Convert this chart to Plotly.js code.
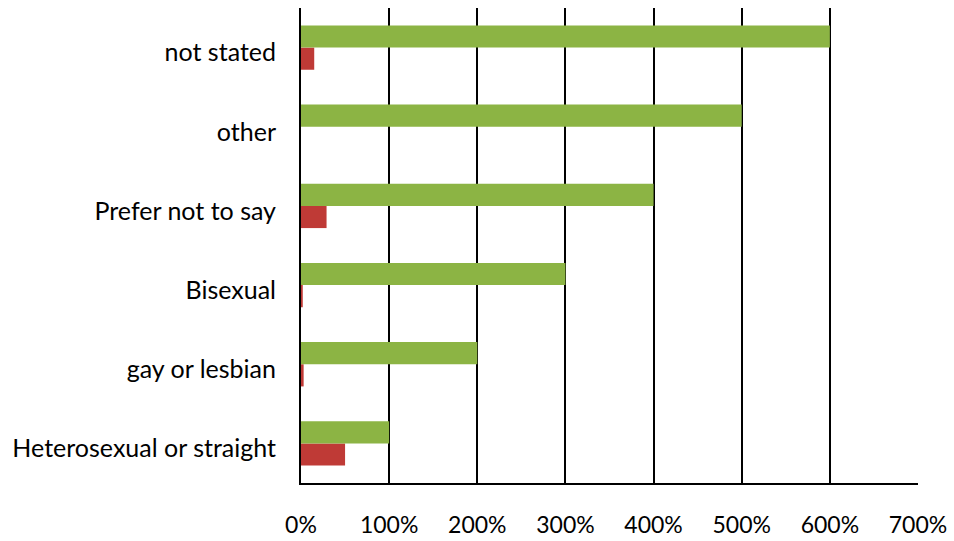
<!DOCTYPE html>
<html>
<head>
<meta charset="utf-8">
<script src="https://cdn.plot.ly/plotly-3.0.1.min.js"></script>
<style>
html,body{margin:0;padding:0;background:#fff;}
body{width:954px;height:541px;overflow:hidden;}
#frame{position:absolute;left:0;top:0;width:2px;height:541px;background:#8c8c8c;}
#chart{width:954px;height:541px;}
</style>
</head>
<body>
<div id="frame"></div>
<div id="chart"></div>
<script>
const categories = ["Heterosexual or straight", "gay or lesbian", "Bisexual", "Prefer not to say", "other", "not stated"];
const greenValues = [1.0, 2.0, 3.0, 4.0, 5.0, 6.0];
const redValues = [0.50, 0.03, 0.02, 0.29, 0.0, 0.15];
const tickValues = [0, 1, 2, 3, 4, 5, 6, 7];
const tickLabels = ["0%", "100%", "200%", "300%", "400%", "500%", "600%", "700%"];

const yFont = {family: "Lato, Open Sans, sans-serif", size: 25, color: "#000"};
const xFont = {family: "Lato, Open Sans, sans-serif", size: 23, color: "#000"};

const traces = [
  {type: "bar", orientation: "h", y: categories, x: redValues, name: "red",
   marker: {color: "#BF3A36"}, hoverinfo: "skip"},
  {type: "bar", orientation: "h", y: categories, x: greenValues, name: "green",
   marker: {color: "#8CB444"}, hoverinfo: "skip"}
];

const layout = {
  width: 954, height: 541,
  margin: {l: 301, r: 36, t: 8, b: 58},
  paper_bgcolor: "#fff", plot_bgcolor: "#fff",
  showlegend: false,
  barmode: "group",
  bargap: 0.44,
  bargroupgap: 0,
  font: yFont,
  xaxis: {
    range: [0, 7], tickvals: tickValues, ticktext: tickLabels,
    showgrid: true, gridcolor: "#000", gridwidth: 2,
    zeroline: false, showline: true, linecolor: "#000", linewidth: 2,
    ticks: "", ticklabelstandoff: 20, tickfont: xFont, fixedrange: true
  },
  yaxis: {
    showgrid: false, zeroline: false, showline: true, linecolor: "#000", linewidth: 2,
    ticks: "", ticklabelstandoff: 18, ticklabelshift: 5, tickfont: yFont, fixedrange: true
  }
};

Plotly.newPlot("chart", traces, layout, {displayModeBar: false, staticPlot: true});
</script>
</body>
</html>
